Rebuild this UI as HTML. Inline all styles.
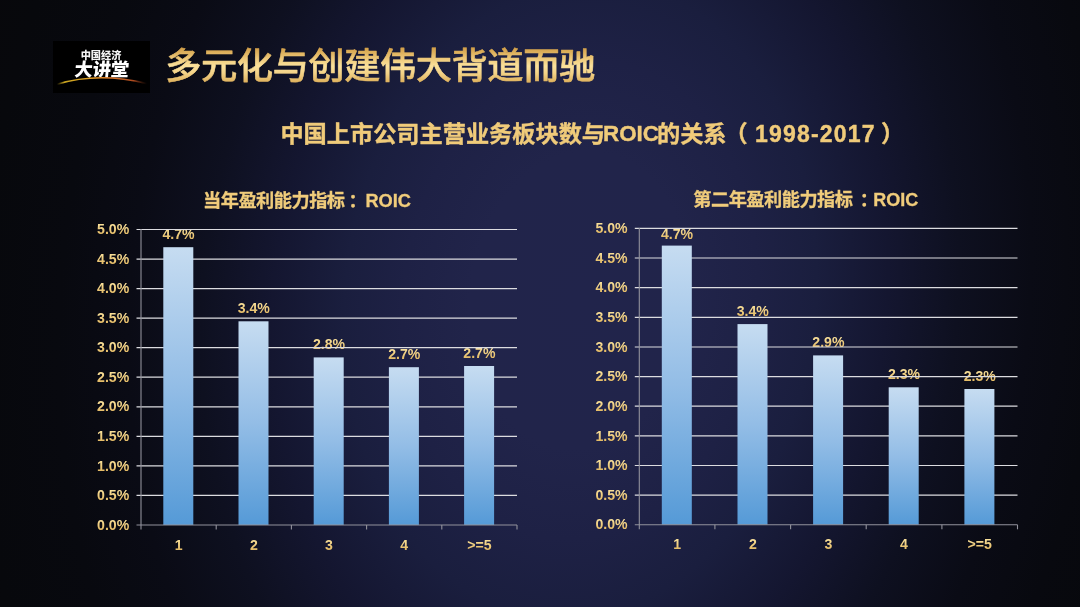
<!DOCTYPE html>
<html lang="zh-CN">
<head>
<meta charset="utf-8">
<title>多元化与创建伟大背道而驰</title>
<style>
html,body{margin:0;padding:0;background:#07080e}
body{width:1080px;height:607px;overflow:hidden;position:relative;font-family:"Liberation Sans","Noto Sans CJK SC",sans-serif}
.bg{position:absolute;left:-100px;top:-100px;width:1280px;height:807px;transform:skewX(-3deg);transform-origin:680px 400px;
background:radial-gradient(ellipse 700px 945px at 680px 400px,rgb(33,36,75) 0.0%,rgb(33,36,74) 15.7%,rgb(30,33,69) 25.3%,rgb(26,30,62) 33.7%,rgb(20,22,48) 43.9%,rgb(14,16,32) 54.0%,rgb(10,11,21) 64.3%,rgb(8,9,15) 74.3%,rgb(7,8,12) 85.7%,rgb(7,7,10) 100.0%)}
.logo{position:absolute;left:53px;top:41px;width:97px;height:52px;background:#000;overflow:hidden}
.logo .l1{position:absolute;left:0;top:9.3px;width:97px;text-align:center;color:#f4f4f4;font-weight:900;font-size:10.2px;line-height:12px;letter-spacing:0;font-family:"Liberation Sans","Noto Sans CJK SC",sans-serif;text-indent:-1px}
.logo .l2{position:absolute;left:0;top:18px;width:97px;text-align:center;color:#fff;font-weight:900;font-size:18.2px;line-height:22px;font-family:"Liberation Sans","Noto Sans CJK SC",sans-serif;text-indent:0.6px;transform:skewX(-5deg)}
.logo svg{position:absolute;left:0;top:0}
h2{position:absolute;left:0;top:114.3px;width:1080px;height:40px;margin:0;font-size:23.2px;line-height:40px;font-weight:700;color:#f0cb7a;-webkit-text-stroke:0.4px #f0cb7a;white-space:nowrap;font-family:"Liberation Sans","Noto Sans CJK SC",sans-serif}
h2 span,.ct span{position:absolute;top:0;white-space:nowrap}
.ct{position:absolute;left:0;width:1080px;height:40px;margin:0;font-size:18.2px;letter-spacing:-0.5px;line-height:40px;font-weight:700;color:#f0cc7b;-webkit-text-stroke:0.3px #f0cc7b;white-space:nowrap;font-family:"Liberation Sans","Noto Sans CJK SC",sans-serif}
svg.c{position:absolute;left:0;top:0}
svg.c .h{font-family:"Liberation Sans","Noto Sans CJK SC",sans-serif;font-size:36.3px;font-weight:500;letter-spacing:-0.5px}
svg.c .g{stroke:#dcdce0;stroke-width:1.2}
svg.c .a{stroke:#92929c;stroke-width:1.1}
svg.c .t{font-family:"Liberation Sans",sans-serif;font-weight:700;font-size:14.1px;fill:url(#lg)}
</style>
</head>
<body>
<div class="bg"></div>
<div class="logo">
<div class="l1">中国经济</div>
<div class="l2">大讲堂</div>
<svg width="97" height="52" viewBox="0 0 97 52">
<defs><linearGradient id="arc" x1="0" y1="0" x2="1" y2="0">
<stop offset="0" stop-color="#b89a1c" stop-opacity="0"/><stop offset="0.08" stop-color="#c9a520"/><stop offset="0.35" stop-color="#e0a024"/><stop offset="0.6" stop-color="#e0782a"/><stop offset="0.85" stop-color="#a9481e"/><stop offset="1" stop-color="#5a2410" stop-opacity="0"/></linearGradient></defs>
<path d="M4 43.2 Q 46 30.5 94 42.6" fill="none" stroke="url(#arc)" stroke-width="1.6" stroke-linecap="round"/>
</svg>
</div>
<h2><span style="left:280.4px">中国上市公司主营业务板块数与</span><span style="left:603px;font-size:22.4px">ROIC</span><span style="left:657px">的关系</span><span style="left:724.4px">（</span><span style="left:755px;font-size:23px;letter-spacing:1.2px">1998-2017</span><span style="left:881px">）</span></h2>
<p class="ct" style="top:181px"><span style="left:203px">当年盈利能力指标</span><span style="left:348.5px">：</span><span style="left:365.4px;font-size:18.2px;letter-spacing:0">ROIC</span></p>
<p class="ct" style="top:180.2px"><span style="left:693.3px">第二年盈利能力指标</span><span style="left:859.8px">：</span><span style="left:873.3px;font-size:18px;letter-spacing:0">ROIC</span></p>
<svg class="c" width="1080" height="607" viewBox="0 0 1080 607">
<defs><linearGradient id="bg" x1="0" y1="0" x2="0" y2="1"><stop offset="0" stop-color="#c6dcf1"/><stop offset="0.5" stop-color="#93bde6"/><stop offset="1" stop-color="#559ad7"/></linearGradient>
<linearGradient id="lg" x1="0" y1="0" x2="0" y2="1"><stop offset="0.2" stop-color="#f9e09a"/><stop offset="0.85" stop-color="#e3b963"/></linearGradient>
<linearGradient id="tg" gradientUnits="userSpaceOnUse" x1="0" y1="46" x2="0" y2="86"><stop offset="0.05" stop-color="#d29f48"/><stop offset="0.3" stop-color="#ecc676"/><stop offset="0.5" stop-color="#fbe19b"/><stop offset="0.68" stop-color="#f3d287"/><stop offset="0.95" stop-color="#d9aa54"/></linearGradient>
</defs>
<text x="165.2" y="79.4" class="h" fill="url(#tg)" stroke="url(#tg)" stroke-width="0.55" stroke-linejoin="round">多元化与创建伟大背道而驰</text>
<text x="178.6" y="239.0" text-anchor="middle" class="t">4.7%</text>
<text x="253.8" y="313.1" text-anchor="middle" class="t">3.4%</text>
<text x="329.0" y="349.2" text-anchor="middle" class="t">2.8%</text>
<text x="404.2" y="359.0" text-anchor="middle" class="t">2.7%</text>
<text x="479.4" y="357.8" text-anchor="middle" class="t">2.7%</text>
<line x1="136.5" y1="495.4" x2="517.0" y2="495.4" class="g"/>
<line x1="136.5" y1="465.9" x2="517.0" y2="465.9" class="g"/>
<line x1="136.5" y1="436.4" x2="517.0" y2="436.4" class="g"/>
<line x1="136.5" y1="406.8" x2="517.0" y2="406.8" class="g"/>
<line x1="136.5" y1="377.2" x2="517.0" y2="377.2" class="g"/>
<line x1="136.5" y1="347.7" x2="517.0" y2="347.7" class="g"/>
<line x1="136.5" y1="318.1" x2="517.0" y2="318.1" class="g"/>
<line x1="136.5" y1="288.6" x2="517.0" y2="288.6" class="g"/>
<line x1="136.5" y1="259.1" x2="517.0" y2="259.1" class="g"/>
<line x1="136.5" y1="229.5" x2="517.0" y2="229.5" class="g"/>
<rect x="163.3" y="247.2" width="30.0" height="277.8" fill="url(#bg)"/>
<rect x="238.5" y="321.3" width="30.0" height="203.7" fill="url(#bg)"/>
<rect x="313.7" y="357.4" width="30.0" height="167.6" fill="url(#bg)"/>
<rect x="388.9" y="367.2" width="30.0" height="157.8" fill="url(#bg)"/>
<rect x="464.1" y="366.0" width="30.0" height="159.0" fill="url(#bg)"/>
<line x1="141.0" y1="229.0" x2="141.0" y2="529.5" class="a"/>
<line x1="136.5" y1="525.0" x2="517.0" y2="525.0" class="a"/>
<line x1="216.2" y1="525.0" x2="216.2" y2="529.5" class="a"/>
<line x1="291.4" y1="525.0" x2="291.4" y2="529.5" class="a"/>
<line x1="366.6" y1="525.0" x2="366.6" y2="529.5" class="a"/>
<line x1="441.8" y1="525.0" x2="441.8" y2="529.5" class="a"/>
<line x1="517.0" y1="525.0" x2="517.0" y2="529.5" class="a"/>
<text x="129.2" y="529.6" text-anchor="end" class="t">0.0%</text>
<text x="129.2" y="500.1" text-anchor="end" class="t">0.5%</text>
<text x="129.2" y="470.5" text-anchor="end" class="t">1.0%</text>
<text x="129.2" y="441.0" text-anchor="end" class="t">1.5%</text>
<text x="129.2" y="411.4" text-anchor="end" class="t">2.0%</text>
<text x="129.2" y="381.9" text-anchor="end" class="t">2.5%</text>
<text x="129.2" y="352.3" text-anchor="end" class="t">3.0%</text>
<text x="129.2" y="322.8" text-anchor="end" class="t">3.5%</text>
<text x="129.2" y="293.2" text-anchor="end" class="t">4.0%</text>
<text x="129.2" y="263.7" text-anchor="end" class="t">4.5%</text>
<text x="129.2" y="234.1" text-anchor="end" class="t">5.0%</text>
<text x="178.6" y="549.5" text-anchor="middle" class="t">1</text>
<text x="253.8" y="549.5" text-anchor="middle" class="t">2</text>
<text x="329.0" y="549.5" text-anchor="middle" class="t">3</text>
<text x="404.2" y="549.5" text-anchor="middle" class="t">4</text>
<text x="479.4" y="549.5" text-anchor="middle" class="t">&gt;=5</text>
<text x="677.1" y="238.6" text-anchor="middle" class="t">4.7%</text>
<text x="752.8" y="315.9" text-anchor="middle" class="t">3.4%</text>
<text x="828.4" y="347.2" text-anchor="middle" class="t">2.9%</text>
<text x="904.0" y="379.1" text-anchor="middle" class="t">2.3%</text>
<text x="979.7" y="380.8" text-anchor="middle" class="t">2.3%</text>
<line x1="634.8" y1="495.2" x2="1017.5" y2="495.2" class="g"/>
<line x1="634.8" y1="465.5" x2="1017.5" y2="465.5" class="g"/>
<line x1="634.8" y1="435.9" x2="1017.5" y2="435.9" class="g"/>
<line x1="634.8" y1="406.2" x2="1017.5" y2="406.2" class="g"/>
<line x1="634.8" y1="376.6" x2="1017.5" y2="376.6" class="g"/>
<line x1="634.8" y1="347.0" x2="1017.5" y2="347.0" class="g"/>
<line x1="634.8" y1="317.3" x2="1017.5" y2="317.3" class="g"/>
<line x1="634.8" y1="287.7" x2="1017.5" y2="287.7" class="g"/>
<line x1="634.8" y1="258.0" x2="1017.5" y2="258.0" class="g"/>
<line x1="634.8" y1="228.4" x2="1017.5" y2="228.4" class="g"/>
<rect x="661.8" y="245.6" width="30.0" height="279.2" fill="url(#bg)"/>
<rect x="737.5" y="324.1" width="30.0" height="200.7" fill="url(#bg)"/>
<rect x="813.1" y="355.4" width="30.0" height="169.4" fill="url(#bg)"/>
<rect x="888.7" y="387.3" width="30.0" height="137.5" fill="url(#bg)"/>
<rect x="964.4" y="389.0" width="30.0" height="135.8" fill="url(#bg)"/>
<line x1="639.3" y1="227.9" x2="639.3" y2="529.3" class="a"/>
<line x1="634.8" y1="524.8" x2="1017.5" y2="524.8" class="a"/>
<line x1="714.9" y1="524.8" x2="714.9" y2="529.3" class="a"/>
<line x1="790.6" y1="524.8" x2="790.6" y2="529.3" class="a"/>
<line x1="866.2" y1="524.8" x2="866.2" y2="529.3" class="a"/>
<line x1="941.9" y1="524.8" x2="941.9" y2="529.3" class="a"/>
<line x1="1017.5" y1="524.8" x2="1017.5" y2="529.3" class="a"/>
<text x="627.5" y="529.4" text-anchor="end" class="t">0.0%</text>
<text x="627.5" y="499.8" text-anchor="end" class="t">0.5%</text>
<text x="627.5" y="470.1" text-anchor="end" class="t">1.0%</text>
<text x="627.5" y="440.5" text-anchor="end" class="t">1.5%</text>
<text x="627.5" y="410.8" text-anchor="end" class="t">2.0%</text>
<text x="627.5" y="381.2" text-anchor="end" class="t">2.5%</text>
<text x="627.5" y="351.6" text-anchor="end" class="t">3.0%</text>
<text x="627.5" y="321.9" text-anchor="end" class="t">3.5%</text>
<text x="627.5" y="292.3" text-anchor="end" class="t">4.0%</text>
<text x="627.5" y="262.6" text-anchor="end" class="t">4.5%</text>
<text x="627.5" y="233.0" text-anchor="end" class="t">5.0%</text>
<text x="677.1" y="549.3" text-anchor="middle" class="t">1</text>
<text x="752.8" y="549.3" text-anchor="middle" class="t">2</text>
<text x="828.4" y="549.3" text-anchor="middle" class="t">3</text>
<text x="904.0" y="549.3" text-anchor="middle" class="t">4</text>
<text x="979.7" y="549.3" text-anchor="middle" class="t">&gt;=5</text>
</svg>
</body>
</html>
